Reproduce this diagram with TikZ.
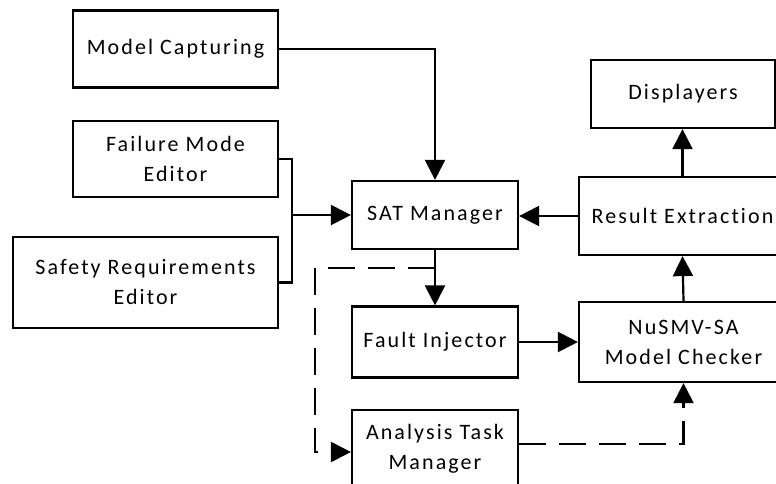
\documentclass[tikz,border=0pt]{standalone}
\usepackage{fontspec}
\setmainfont[LetterSpace=9.5,Ligatures={NoCommon}]{Carlito}
\usetikzlibrary{arrows.meta,calc}
\begin{document}
\begin{tikzpicture}[x=1pt,y=-1pt,
  blk/.style={draw,line width=2.2pt,rectangle,align=center,inner sep=0pt,
    font=\fontsize{22}{30}\selectfont},
  flow/.style={line width=2.2pt,-{Triangle[length=20pt,width=20pt]}},
  dflow/.style={flow,dash pattern=on 27pt off 13pt}]
  \clip (0,0) rectangle (776,483);
  % blocks
  \node[blk,minimum width=205,minimum height=77] (mc) at (175.5,49) {Model Capturing};
  \node[blk,minimum width=205,minimum height=76] (fme) at (175.5,159) {Failure Mode\\Editor};
  \node[blk,minimum width=265,minimum height=91] (sre) at (145.5,282.5) {Safety Requirements\\Editor};
  \node[blk,minimum width=166,minimum height=68] (sat) at (435,215) {SAT Manager};
  \node[blk,minimum width=207,minimum height=78] (re) at (682.5,216) {Result Extraction};
  \node[blk,minimum width=184,minimum height=68] (disp) at (683,94) {Displayers};
  \node[blk,minimum width=166,minimum height=71] (fi) at (435,342) {Fault Injector};
  \node[blk,minimum width=209,minimum height=80] (nu) at (683.5,342) {NuSMV-SA\\Model Checker};
  \node[blk,minimum width=166,minimum height=78] (atm) at (435,449) {Analysis Task\\Manager};
  % helper points
  \coordinate (join) at (292,215);
  \coordinate (split) at (435,268);
  \coordinate (bend) at (315,268);
  % solid connectors
  \draw[flow] (mc.east) -| (sat.north);
  \draw[line width=2.2pt] (fme.east) -| (join) |- (sre.east);
  \draw[flow] (join) -- (sat.west);
  \draw[flow] (re.west) -- (sat.east |- re.west);
  \draw[flow] (re.north) -- (re.north |- disp.south);
  \draw[flow] (sat.south) -- (fi.north);
  \draw[flow] (fi.east) -- (nu.west |- fi.east);
  \draw[flow] (nu.north) -- (re.south);
  % dashed connectors
  \draw[dflow] (split) -- (bend) |- ([yshift=-3]atm.west);
  \draw[dflow] ([yshift=5]atm.east) -| (nu.south);
\end{tikzpicture}
\end{document}
